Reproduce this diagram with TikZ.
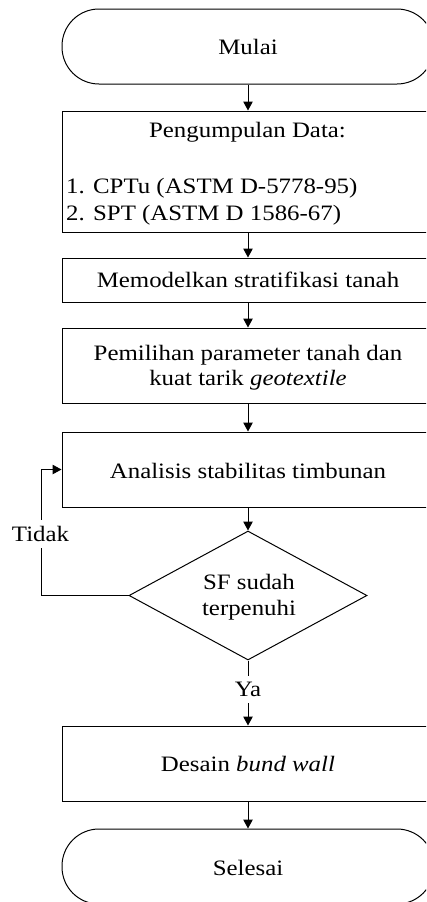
\documentclass[tikz,border=0pt]{standalone}
\usepackage{fontspec}
\setmainfont{Liberation Serif}[FakeStretch=1.13]
\usetikzlibrary{shapes.geometric,arrows.meta}
\tikzset{
  box/.style={draw,line width=1pt,rectangle,minimum width=372pt,inner sep=0pt},
  term/.style={box,rounded corners=37pt,minimum height=75pt},
  decide/.style={draw,line width=1pt,diamond,minimum width=238pt,minimum height=129pt,inner sep=0pt},
  txt/.style={anchor=base,inner sep=0pt,font=\fontsize{22}{25}\selectfont},
  lbl/.style={txt,fill=white,inner xsep=2pt,inner ysep=6.5pt},
  conn/.style={line width=1pt},
  arr/.style={conn,-{Triangle[length=9pt,width=9.5pt]}}
}
\begin{document}
\begin{tikzpicture}[x=1pt,y=-1pt]
\useasboundingbox (0,0) rectangle (426,902);
\clip (0,0) rectangle (426,902);
% shapes
\node[term] (start) at (248,46.5) {};
\node[box,minimum height=121pt] (data) at (248,171.5) {};
\node[box,minimum height=44pt] (model) at (248,280) {};
\node[box,minimum height=75pt] (param) at (248,365.5) {};
\node[box,minimum height=75pt] (anal) at (248,469.5) {};
\node[decide] (dia) at (248,595.5) {};
\node[box,minimum height=75pt] (desain) at (248,763.5) {};
\node[term] (stop) at (248,866.5) {};
% texts
\node[txt] (tstart) at (248,54) {Mulai};
\node[txt] (tdata) at (247.5,137.3) {Pengumpulan Data:};
\node[txt,anchor=base west] (tlist1) at (66,193.3) {1. CPTu (ASTM D-5778-95)};
\node[txt,anchor=base west] (tlist2) at (66,220) {2. SPT (ASTM D 1586-67)};
\node[txt] (tmodel) at (248,287.3) {Memodelkan stratifikasi tanah};
\node[txt] (tparam1) at (248,360) {Pemilihan parameter tanah dan};
\node[txt] (tparam2) at (248,385) {kuat tarik \textit{geotextile}};
\node[txt] (tanal) at (248,478) {Analisis stabilitas timbunan};
\node[txt] (tdia1) at (249,589) {SF sudah};
\node[txt] (tdia2) at (249,615.5) {terpenuhi};
\node[txt] (tdesain) at (248,771.7) {Desain \textit{bund wall}};
\node[txt] (tstop) at (248,875) {Selesai};
% connectors
\draw[arr] (start.south) -- (data.north);
\draw[arr] (data.south) -- (model.north);
\draw[arr] (model.south) -- (param.north);
\draw[arr] (param.south) -- (anal.north);
\draw[arr] (anal.south) -- (dia.north);
\draw[arr] (dia.south) -- (desain.north);
\draw[arr] (desain.south) -- (stop.north);
\coordinate (fb) at (41,595.5);
\draw[arr] (dia.west) -- (fb) |- (anal.west);
% labels
\node[lbl] (tidak) at (40.5,541.7) {Tidak};
\node[lbl] (ya) at (248,696.7) {Ya};
\end{tikzpicture}
\end{document}
